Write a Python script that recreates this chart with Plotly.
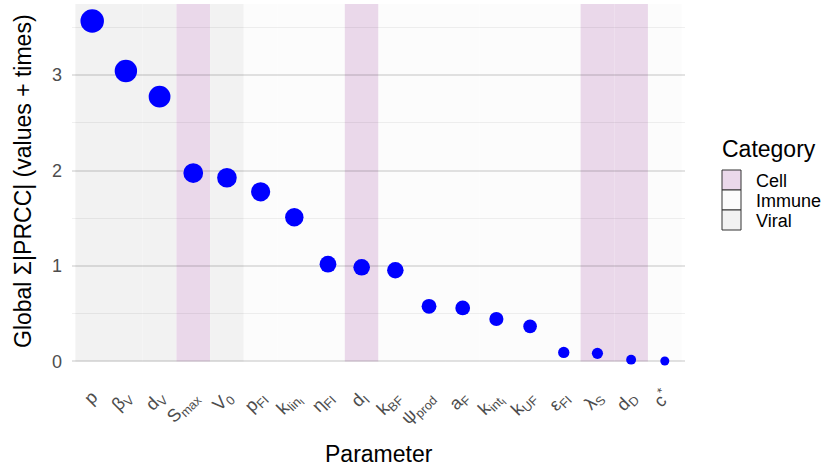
import numpy as np
import plotly.graph_objects as go

# Parameters ranked by global sum of |PRCC| over outputs and time points
parameters = [
    "p", "β<sub>V</sub>", "d<sub>V</sub>", "S<sub>max</sub>", "V<sub>0</sub>",
    "p<sub>FI</sub>", "k<sub>lin<sub>I</sub></sub>", "η<sub>FI</sub>", "d<sub>I</sub>",
    "k<sub>BF</sub>", "ψ<sub>prod</sub>", "a<sub>F</sub>", "k<sub>int<sub>I</sub></sub>",
    "k<sub>UF</sub>", "ε<sub>FI</sub>", "λ<sub>S</sub>", "d<sub>D</sub>", "c<sup>*</sup>",
]
global_prcc = [3.567, 3.043, 2.774, 1.973, 1.924, 1.777, 1.511, 1.018, 0.986,
               0.955, 0.577, 0.560, 0.444, 0.367, 0.094, 0.084, 0.018, 0.004]
category = ["Viral", "Viral", "Viral", "Cell", "Viral", "Immune", "Immune", "Immune", "Cell",
            "Immune", "Immune", "Immune", "Immune", "Immune", "Immune", "Cell", "Cell", "Immune"]

legend_order = ["Cell", "Immune", "Viral"]
category_colors = {"Cell": "#EAD8EA", "Immune": "#FCFCFC", "Viral": "#F2F2F2"}

FONT = "Liberation Sans, Arial, Helvetica, sans-serif"
W, H = 822, 467
M_L, M_R, M_T, M_B = 72, 137, 4, 89
PW, PH = W - M_L - M_R, H - M_T - M_B

def px_x(px):
    return (px - M_L) / PW

def px_y(py):
    return (H - M_B - py) / PH

vals = np.array(global_prcc)
xpos = np.arange(1, len(parameters) + 1)

# ggplot-like axis expansion: 0.6 units on discrete x, 5% on continuous y
x_range = [0.4, len(parameters) + 0.6]
span = vals.max() - vals.min()
y_range = [vals.min() - 0.05 * span, vals.max() + 0.05 * span]

# Point size follows an area scale of the value
d_min, d_max = 9.0, 23.5
sizes = d_min + (d_max - d_min) * np.sqrt((vals - vals.min()) / (vals.max() - vals.min()))

fig = go.Figure()
fig.add_trace(go.Scatter(
    x=xpos, y=vals, mode="markers",
    marker=dict(color="#0000FF", size=sizes, opacity=1, line=dict(width=0)),
    showlegend=False, hoverinfo="skip",
))

shapes = []
# category band behind each parameter
for xi, cat in zip(xpos, category):
    shapes.append(dict(
        type="rect", xref="x", yref="y", x0=xi - 0.5, x1=xi + 0.5,
        y0=0, y1=y_range[1], fillcolor=category_colors[cat],
        line=dict(width=0), layer="below",
    ))

annotations = []
# hand-built legend: title, keys and labels
annotations.append(dict(
    text="Category", xref="paper", yref="paper", x=px_x(720), y=px_y(149),
    xanchor="left", yanchor="middle", showarrow=False,
    font=dict(family=FONT, size=23, color="#000000"),
))
key_w, key_h, key_top = 19, 20, 170
for i, cat in enumerate(legend_order):
    top = key_top + i * key_h
    shapes.append(dict(
        type="rect", xref="paper", yref="paper",
        x0=px_x(722), x1=px_x(722 + key_w), y0=px_y(top + key_h), y1=px_y(top),
        fillcolor=category_colors[cat], line=dict(color="#333333", width=1),
        layer="above",
    ))
    annotations.append(dict(
        text=cat, xref="paper", yref="paper", x=px_x(754), y=px_y(top + key_h / 2 + 1),
        xanchor="left", yanchor="middle", showarrow=False,
        font=dict(family=FONT, size=18, color="#000000"),
    ))

# axis titles
annotations.append(dict(
    text="Parameter", xref="paper", yref="paper", x=0.5, y=px_y(454),
    xanchor="center", yanchor="middle", showarrow=False,
    font=dict(family=FONT, size=23, color="#000000"),
))
annotations.append(dict(
    text="Global Σ|PRCC| (values + times)", xref="paper", yref="paper",
    x=px_x(23), y=px_y(181), textangle=-90,
    xanchor="center", yanchor="middle", showarrow=False,
    font=dict(family=FONT, size=23, color="#000000"),
))

fig.update_layout(
    width=W, height=H,
    margin=dict(l=M_L, r=M_R, t=M_T, b=M_B, pad=0),
    paper_bgcolor="#FFFFFF", plot_bgcolor="#FFFFFF",
    font=dict(family=FONT),
    shapes=shapes, annotations=annotations,
    showlegend=False,
)
fig.update_xaxes(
    range=x_range, tickmode="array", tickvals=xpos, ticktext=parameters,
    tickangle=-45, showgrid=False, zeroline=False, showline=False, ticks="",
    ticklabelstandoff=4,
    tickfont=dict(family=FONT, size=18, color="#4D4D4D"),
)
fig.update_yaxes(
    range=y_range, tickmode="linear", tick0=0, dtick=1,
    showgrid=True, gridcolor="rgba(0,0,0,0.11)", gridwidth=1.6,
    minor=dict(dtick=0.5, tick0=0, showgrid=True, gridcolor="rgba(0,0,0,0.06)", gridwidth=0.9),
    zeroline=False, showline=False, ticks="", ticklabelstandoff=9,
    tickfont=dict(family=FONT, size=18, color="#4D4D4D"),
)

fig.write_html("out.html")
